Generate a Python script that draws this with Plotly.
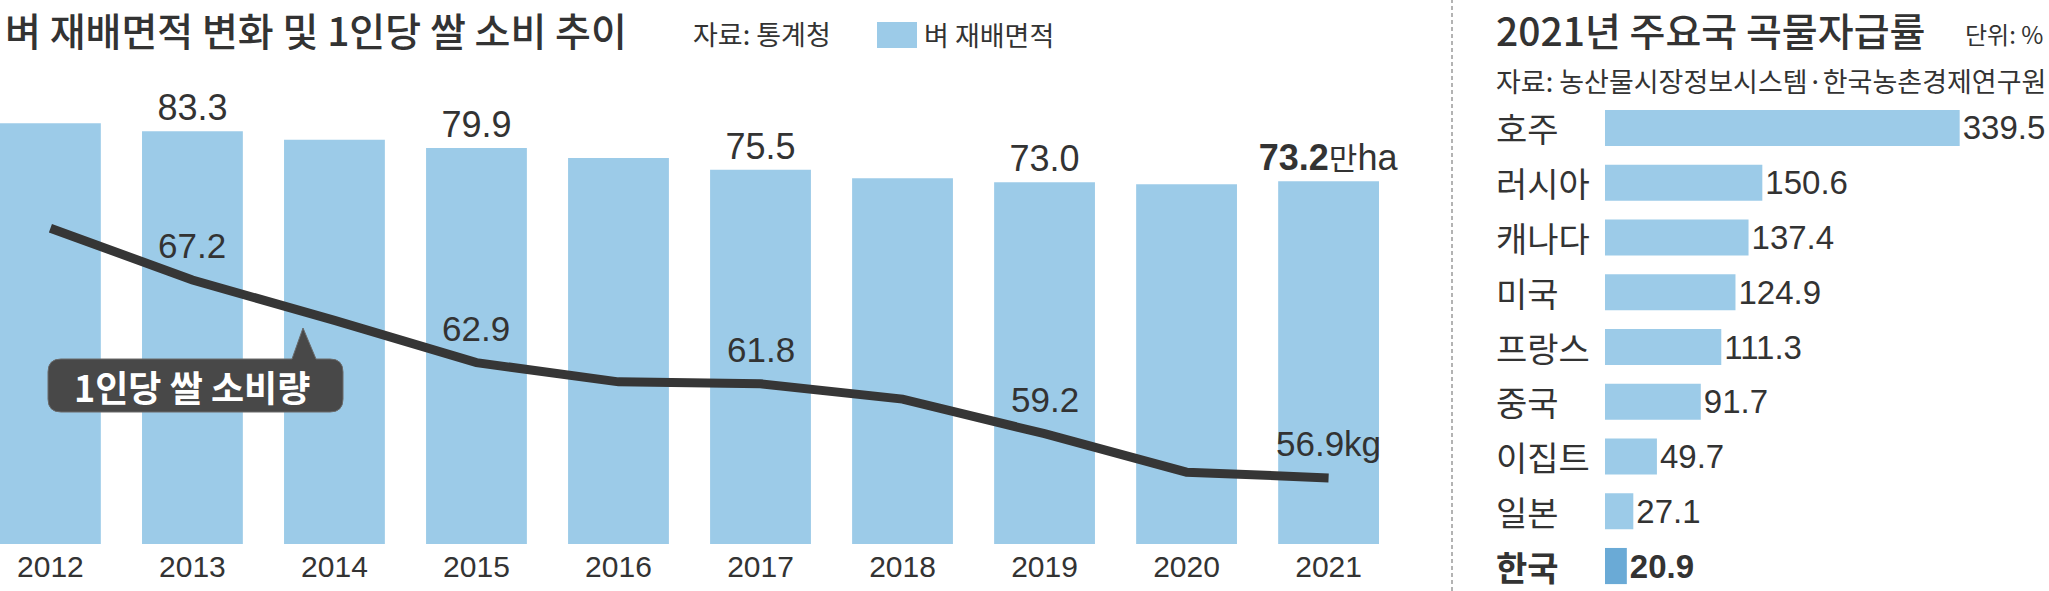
import plotly.graph_objects as go

# ---------------- data ----------------
years = ["2012", "2013", "2014", "2015", "2016", "2017", "2018", "2019", "2020", "2021"]
rice_area = [84.9, 83.3, 81.6, 79.9, 77.9, 75.5, 73.8, 73.0, 72.6, 73.2]      # 만ha
rice_per_capita = [69.9, 67.2, 65.1, 62.9, 61.9, 61.8, 61.0, 59.2, 57.2, 56.9]  # kg

countries = ["호주", "러시아", "캐나다", "미국", "프랑스", "중국", "이집트", "일본", "한국"]
self_sufficiency = [339.5, 150.6, 137.4, 124.9, 111.3, 91.7, 49.7, 27.1, 20.9]  # %

left_title = "벼 재배면적 변화 및 1인당 쌀 소비 추이"
left_source = "자료: 통계청"
legend_name = "벼 재배면적"
callout_text = "1인당 쌀 소비량"
right_title = "2021년 주요국 곡물자급률"
right_unit = "단위: %"
right_source = "자료: 농산물시장정보시스템·한국농촌경제연구원"

# ---------------- style ----------------
W, H = 2049, 591
KR = "Noto Sans CJK KR, Noto Sans, sans-serif"
NUM = "Liberation Sans, Arial, Noto Sans CJK KR, sans-serif"
TXT = "#333333"
BAR = "#9ccbe8"
BAR_KR = "#6aaad6"
LINE = "#363636"


def px(x):
    return x / W


def py(y):
    return 1 - y / H


fig = go.Figure()

# left: bars (rice cultivation area)
bar_text = []
for i, v in enumerate(rice_area):
    if i == len(rice_area) - 1:
        bar_text.append(f"<b>{v:.1f}</b><span style='font-size:31px'>만</span>ha")
    elif i % 2 == 1:
        bar_text.append(f"{v:.1f}")
    else:
        bar_text.append("")

fig.add_trace(go.Bar(
    x=years, y=rice_area, width=0.71, marker=dict(color=BAR, line=dict(width=0)),
    text=bar_text, textposition="outside", constraintext="none", cliponaxis=False,
    textfont=dict(family=NUM, size=36, color=TXT),
    xaxis="x", yaxis="y", showlegend=False, hoverinfo="skip",
))

# left: line (per-capita rice consumption)
fig.add_trace(go.Scatter(
    x=years, y=rice_per_capita, mode="lines",
    line=dict(color=LINE, width=9), xaxis="x", yaxis="y2",
    showlegend=False, hoverinfo="skip",
))

for i, v in enumerate(rice_per_capita):
    if i % 2 == 1:
        label = f"{v:.1f}kg" if i == len(years) - 1 else f"{v:.1f}"
        fig.add_annotation(x=i, y=v, xref="x", yref="y2", text=label, showarrow=False,
                           yanchor="bottom", yshift=13,
                           font=dict(family=NUM, size=35, color=TXT))

# right: horizontal bars
colors = [BAR_KR if c == "한국" else BAR for c in countries]
vtext = [f"<b>{v:.1f}</b>" if c == "한국" else f"{v:.1f}" for c, v in zip(countries, self_sufficiency)]
fig.add_trace(go.Bar(
    y=countries, x=self_sufficiency, orientation="h", width=0.66,
    marker=dict(color=colors, line=dict(width=0)),
    text=vtext, textposition="outside", constraintext="none", cliponaxis=False,
    textfont=dict(family=NUM, size=33, color=TXT),
    xaxis="x3", yaxis="y3", showlegend=False, hoverinfo="skip",
))

for i, c in enumerate(countries):
    fig.add_annotation(x=px(1494), y=i, xref="paper", yref="y3",
                       text=f"<b>{c}</b>" if c == "한국" else c, showarrow=False,
                       xanchor="left", yanchor="middle",
                       font=dict(family=KR, size=34, color=TXT))

# plot geometry
y_bot, y_top = py(544), py(100)
fig.update_layout(
    width=W, height=H, margin=dict(l=0, r=0, t=0, b=0),
    paper_bgcolor="white", plot_bgcolor="white",
    xaxis=dict(domain=[0, px(1379)], type="category", range=[-0.355, 9.355],
               showgrid=False, zeroline=False, showline=False, ticks="",
               tickfont=dict(family=NUM, size=30, color=TXT), ticklabelstandoff=2,
               fixedrange=True),
    yaxis=dict(domain=[y_bot, y_top], range=[0, 89.6], visible=False),
    yaxis2=dict(domain=[y_bot, y_top], range=[53.46, 76.57], overlaying="y", visible=False),
    xaxis3=dict(domain=[px(1605), 1.0], range=[0, 425], visible=False),
    yaxis3=dict(domain=[0, py(100.6)], range=[8.456, -0.5], type="category",
                anchor="x3", visible=False),
)

# titles / texts
fig.add_annotation(x=px(3), y=py(29), xref="paper", yref="paper", text=left_title,
                   showarrow=False, xanchor="left", yanchor="middle",
                   font=dict(family=KR, size=39, color=TXT, weight=500))
fig.add_annotation(x=px(691), y=py(33), xref="paper", yref="paper", text=left_source,
                   showarrow=False, xanchor="left", yanchor="middle",
                   font=dict(family=KR, size=27, color=TXT))
fig.add_shape(type="rect", xref="paper", yref="paper", x0=px(877), x1=px(917),
              y0=py(48), y1=py(22), fillcolor=BAR, line=dict(width=0))
fig.add_annotation(x=px(922), y=py(34), xref="paper", yref="paper", text=legend_name,
                   showarrow=False, xanchor="left", yanchor="middle",
                   font=dict(family=KR, size=27, color=TXT))

fig.add_annotation(x=px(1494), y=py(29), xref="paper", yref="paper", text=right_title,
                   showarrow=False, xanchor="left", yanchor="middle",
                   font=dict(family=KR, size=39, color=TXT, weight=500))
fig.add_annotation(x=px(2045), y=py(33), xref="paper", yref="paper", text=right_unit,
                   showarrow=False, xanchor="right", yanchor="middle",
                   font=dict(family=KR, size=24, color=TXT))
fig.add_annotation(x=px(1494), y=py(80), xref="paper", yref="paper", text=right_source,
                   showarrow=False, xanchor="left", yanchor="middle",
                   font=dict(family=KR, size=27, color=TXT))

# separator
fig.add_shape(type="line", xref="paper", yref="paper", x0=px(1452), x1=px(1452),
              y0=0, y1=1, line=dict(color="#9a9a9a", width=1.5, dash="4px,3px"))

# callout box with pointer
x0, x1, yt, yb, r = 48, 343, 359, 412, 13
bx0, bx1, tipx, tipy = 292, 316, 303, 328
pts = [
    f"M {px(x0 + r)},{py(yt)}",
    f"L {px(bx0)},{py(yt)}",
    f"L {px(tipx)},{py(tipy)}",
    f"L {px(bx1)},{py(yt)}",
    f"L {px(x1 - r)},{py(yt)}",
    f"Q {px(x1)},{py(yt)} {px(x1)},{py(yt + r)}",
    f"L {px(x1)},{py(yb - r)}",
    f"Q {px(x1)},{py(yb)} {px(x1 - r)},{py(yb)}",
    f"L {px(x0 + r)},{py(yb)}",
    f"Q {px(x0)},{py(yb)} {px(x0)},{py(yb - r)}",
    f"L {px(x0)},{py(yt + r)}",
    f"Q {px(x0)},{py(yt)} {px(x0 + r)},{py(yt)}",
    "Z",
]
fig.add_shape(type="path", xref="paper", yref="paper", path=" ".join(pts),
              fillcolor="#484848", line=dict(color="#6a6a6a", width=1))
fig.add_annotation(x=px(192), y=py(386), xref="paper", yref="paper",
                   text=f"<b>{callout_text}</b>", showarrow=False,
                   xanchor="center", yanchor="middle",
                   font=dict(family=KR, size=36, color="white"))

fig.write_html(
    "out.html",
    config={"displayModeBar": False},
    post_script="document.body.style.margin='0';document.body.style.overflow='hidden';",
)
